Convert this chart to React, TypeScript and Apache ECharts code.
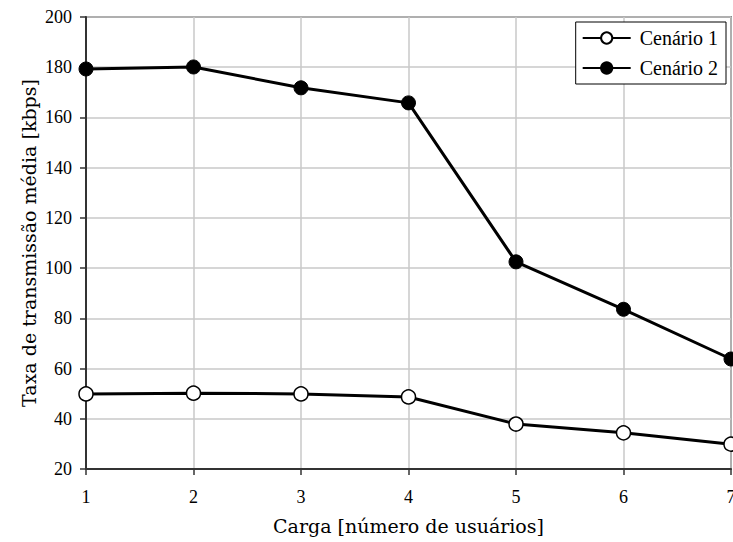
import React, { useEffect, useRef } from "react";
import * as echarts from "echarts";

// Carga (número de usuários)
const loads = [1, 2, 3, 4, 5, 6, 7];
// Taxa de transmissão média [kbps]
const cenario1 = [49.9, 50.2, 49.9, 48.7, 37.9, 34.4, 29.9];
const cenario2 = [179.3, 180.1, 171.8, 165.8, 102.5, 83.6, 63.8];

const seriesNames = ["Cenário 1", "Cenário 2"];

const FONT = "Liberation Serif";
const NAME_FONT = "DejaVu Serif";

const serif = (size: number, family = FONT) => ({
  fontFamily: family,
  fontSize: size,
  color: "#000000",
});

export default function App() {
  const ref = useRef<HTMLDivElement>(null);

  useEffect(() => {
    if (!ref.current) return;
    const chart = echarts.init(ref.current, undefined, { renderer: "svg" });
    const toPairs = (vals: number[]) => loads.map((x, i) => [x, vals[i]]);

    const axisCommon = {
      type: "value",
      nameLocation: "middle",
      nameMoveOverlap: false,
      nameTextStyle: { ...serif(19, NAME_FONT), fontWeight: "normal" },
      axisLine: { show: true, lineStyle: { color: "#333333", width: 2 } },
      axisTick: { show: true, length: 6, lineStyle: { color: "#333333", width: 1.5 } },
      splitLine: { show: true, lineStyle: { color: "#c8c8c8", width: 1.5 } },
    };

    chart.setOption({
      animation: false,
      backgroundColor: "#ffffff",
      textStyle: { fontFamily: FONT },
      grid: {
        left: 86,
        top: 17,
        right: 2,
        bottom: 73,
        containLabel: false,
        outerBoundsMode: "none",
        show: true,
        borderColor: "#333333",
        borderWidth: 1.5,
        backgroundColor: "transparent",
      },
      legend: {
        data: seriesNames,
        right: 7,
        top: 22,
        orient: "vertical",
        itemWidth: 48,
        itemHeight: 14,
        itemGap: 10,
        padding: [6, 8, 6, 6],
        backgroundColor: "#ffffff",
        borderColor: "#000000",
        borderWidth: 1,
        borderRadius: 0,
        formatter: (name: string) => `{t|${name}}`,
        textStyle: { ...serif(20), rich: { t: { ...serif(20), padding: [0, 0, 0, 4] } } },
      },
      xAxis: {
        ...axisCommon,
        min: 1,
        max: 7,
        interval: 1,
        name: "Carga [número de usuários]",
        nameGap: 47,
        axisLabel: {
          ...serif(18),
          margin: 19,
          formatter: (v: number) => `{t|${v}}`,
          rich: { t: serif(18) },
        },
      },
      yAxis: {
        ...axisCommon,
        min: 20,
        max: 200,
        interval: 20,
        name: "Taxa de transmissão média [kbps]",
        nameGap: 48,
        axisLabel: {
          ...serif(18),
          margin: 14,
          formatter: (v: number) => `{t|${v}}`,
          rich: { t: serif(18) },
        },
      },
      series: [
        {
          name: seriesNames[0],
          type: "line",
          data: toPairs(cenario1),
          symbol: "circle",
          symbolSize: 14,
          clip: false,
          lineStyle: { color: "#000000", width: 3 },
          itemStyle: { color: "#ffffff", borderColor: "#000000", borderWidth: 1.5 },
          z: 3,
        },
        {
          name: seriesNames[1],
          type: "line",
          data: toPairs(cenario2),
          symbol: "circle",
          symbolSize: 14,
          clip: false,
          lineStyle: { color: "#000000", width: 3 },
          itemStyle: { color: "#000000", borderColor: "#000000", borderWidth: 1 },
          z: 3,
        },
      ],
    });

    return () => chart.dispose();
  }, []);

  return (
    <div
      ref={ref}
      style={{ position: "fixed", left: 0, top: 0, width: 733, height: 542 }}
    />
  );
}
